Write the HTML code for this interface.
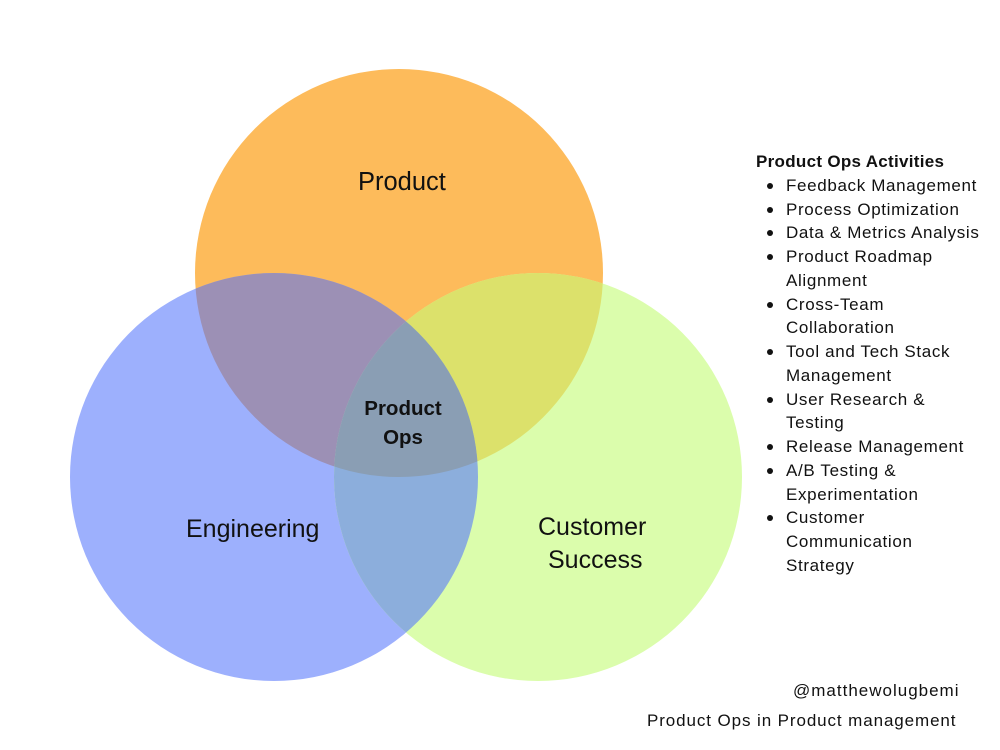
<!DOCTYPE html>
<html>
<head>
<meta charset="utf-8">
<style>
  html,body{margin:0;padding:0;background:#fff;}
  body{width:1000px;height:750px;position:relative;overflow:hidden;font-family:"Liberation Sans",Arial,sans-serif;color:#111;}
  svg{position:absolute;left:0;top:0;}
  .lbl{position:absolute;font-size:25px;color:#111;white-space:nowrap;}
  .po{position:absolute;font-weight:bold;font-size:20.5px;text-align:center;line-height:29px;width:120px;left:343px;top:394px;color:#111;}
  .list{position:absolute;left:756px;top:150px;font-size:17px;line-height:23.75px;letter-spacing:0.65px;white-space:nowrap;}
  .list .h{font-weight:bold;font-size:17px;letter-spacing:0.3px;}
  .list ul{margin:0;padding:0;list-style:none;}
  .list li{position:relative;padding-left:30px;}
  .list li:before{content:"";position:absolute;left:11px;top:9px;width:6px;height:6px;border-radius:50%;background:#111;}
  .foot{position:absolute;font-size:17px;white-space:nowrap;}
</style>
</head>
<body>
<svg width="1000" height="750" viewBox="0 0 1000 750">
  <defs>
    <clipPath id="cP"><circle cx="399" cy="273" r="204"/></clipPath>
    <clipPath id="cE"><circle cx="274" cy="477" r="204"/></clipPath>
    <clipPath id="cC"><circle cx="538" cy="477" r="204"/></clipPath>
  </defs>
  <circle cx="399" cy="273" r="204" fill="#FDBB5B"/>
  <circle cx="274" cy="477" r="204" fill="#9DB0FD"/>
  <circle cx="538" cy="477" r="204" fill="#DBFDAC"/>
  <g clip-path="url(#cP)"><circle cx="274" cy="477" r="204" fill="#9C90B5"/></g>
  <g clip-path="url(#cP)"><circle cx="538" cy="477" r="204" fill="#DCE16B"/></g>
  <g clip-path="url(#cE)"><circle cx="538" cy="477" r="204" fill="#8CAEDC"/></g>
  <g clip-path="url(#cP)"><g clip-path="url(#cE)"><circle cx="538" cy="477" r="204" fill="#8A9EB4"/></g></g>
</svg>

<div class="lbl" style="left:358px;top:168px;font-size:25.5px;">Product</div>
<div class="lbl" style="left:186px;top:515px;">Engineering</div>
<div class="lbl" style="left:538px;top:513px;">Customer</div>
<div class="lbl" style="left:548px;top:546px;">Success</div>

<div class="po">Product<br>Ops</div>

<div class="list">
  <div class="h">Product Ops Activities</div>
  <ul>
    <li>Feedback Management</li>
    <li>Process Optimization</li>
    <li>Data &amp; Metrics Analysis</li>
    <li>Product Roadmap<br>Alignment</li>
    <li>Cross-Team<br>Collaboration</li>
    <li>Tool and Tech Stack<br>Management</li>
    <li>User Research &amp;<br>Testing</li>
    <li>Release Management</li>
    <li>A/B Testing &amp;<br>Experimentation</li>
    <li>Customer<br>Communication<br>Strategy</li>
  </ul>
</div>

<div class="foot" style="left:793px;top:681px;letter-spacing:1.0px;">@matthewolugbemi</div>
<div class="foot" style="left:647px;top:711px;letter-spacing:0.9px;">Product Ops in Product management</div>
</body>
</html>
